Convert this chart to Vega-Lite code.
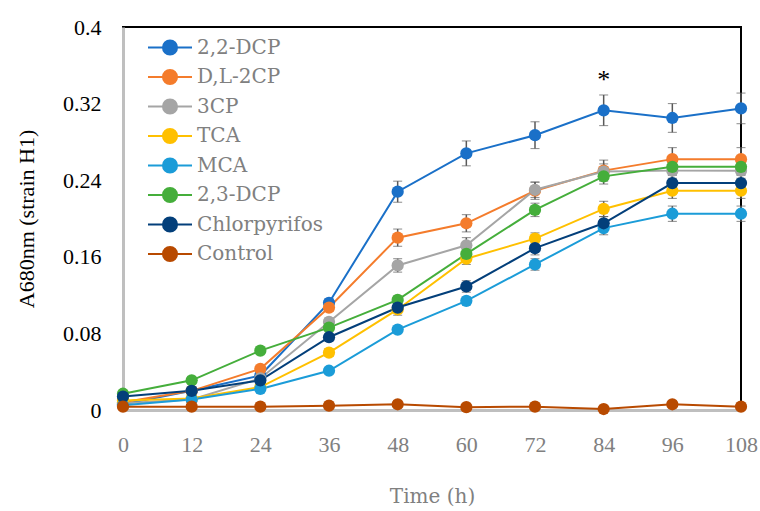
{
  "$schema": "https://vega.github.io/schema/vega-lite/v6.json",
  "width": 618,
  "height": 383,
  "autosize": {"type": "none"},
  "padding": {"left": 123, "top": 27, "right": 19, "bottom": 101},
  "background": "white",
  "config": {
    "view": {"stroke": "black", "strokeWidth": 2},
    "font": "Liberation Serif"
  },
  "datasets": {
    "main": [
      {"time": 0, "series": "2,2-DCP", "value": 0.006, "err": 0.002},
      {"time": 12, "series": "2,2-DCP", "value": 0.020, "err": 0.002},
      {"time": 24, "series": "2,2-DCP", "value": 0.036, "err": 0.003},
      {"time": 36, "series": "2,2-DCP", "value": 0.112, "err": 0.004},
      {"time": 48, "series": "2,2-DCP", "value": 0.228, "err": 0.011},
      {"time": 60, "series": "2,2-DCP", "value": 0.268, "err": 0.013},
      {"time": 72, "series": "2,2-DCP", "value": 0.287, "err": 0.014},
      {"time": 84, "series": "2,2-DCP", "value": 0.313, "err": 0.016},
      {"time": 96, "series": "2,2-DCP", "value": 0.305, "err": 0.015},
      {"time": 108, "series": "2,2-DCP", "value": 0.315, "err": 0.016},
      {"time": 0, "series": "D,L-2CP", "value": 0.008, "err": 0.001},
      {"time": 12, "series": "D,L-2CP", "value": 0.020, "err": 0.002},
      {"time": 24, "series": "D,L-2CP", "value": 0.043, "err": 0.003},
      {"time": 36, "series": "D,L-2CP", "value": 0.107, "err": 0.004},
      {"time": 48, "series": "D,L-2CP", "value": 0.180, "err": 0.009},
      {"time": 60, "series": "D,L-2CP", "value": 0.195, "err": 0.009},
      {"time": 72, "series": "D,L-2CP", "value": 0.229, "err": 0.009},
      {"time": 84, "series": "D,L-2CP", "value": 0.250, "err": 0.011},
      {"time": 96, "series": "D,L-2CP", "value": 0.262, "err": 0.012},
      {"time": 108, "series": "D,L-2CP", "value": 0.262, "err": 0.012},
      {"time": 0, "series": "3CP", "value": 0.007, "err": 0.001},
      {"time": 12, "series": "3CP", "value": 0.011, "err": 0.001},
      {"time": 24, "series": "3CP", "value": 0.033, "err": 0.003},
      {"time": 36, "series": "3CP", "value": 0.092, "err": 0.004},
      {"time": 48, "series": "3CP", "value": 0.151, "err": 0.007},
      {"time": 60, "series": "3CP", "value": 0.172, "err": 0.008},
      {"time": 72, "series": "3CP", "value": 0.230, "err": 0.008},
      {"time": 84, "series": "3CP", "value": 0.249, "err": 0.008},
      {"time": 96, "series": "3CP", "value": 0.250, "err": 0.008},
      {"time": 108, "series": "3CP", "value": 0.250, "err": 0.008},
      {"time": 0, "series": "TCA", "value": 0.010, "err": 0.001},
      {"time": 12, "series": "TCA", "value": 0.012, "err": 0.001},
      {"time": 24, "series": "TCA", "value": 0.024, "err": 0.002},
      {"time": 36, "series": "TCA", "value": 0.060, "err": 0.004},
      {"time": 48, "series": "TCA", "value": 0.105, "err": 0.006},
      {"time": 60, "series": "TCA", "value": 0.158, "err": 0.006},
      {"time": 72, "series": "TCA", "value": 0.179, "err": 0.006},
      {"time": 84, "series": "TCA", "value": 0.210, "err": 0.008},
      {"time": 96, "series": "TCA", "value": 0.229, "err": 0.008},
      {"time": 108, "series": "TCA", "value": 0.229, "err": 0.008},
      {"time": 0, "series": "MCA", "value": 0.005, "err": 0.001},
      {"time": 12, "series": "MCA", "value": 0.011, "err": 0.001},
      {"time": 24, "series": "MCA", "value": 0.022, "err": 0.002},
      {"time": 36, "series": "MCA", "value": 0.041, "err": 0.003},
      {"time": 48, "series": "MCA", "value": 0.084, "err": 0.003},
      {"time": 60, "series": "MCA", "value": 0.114, "err": 0.004},
      {"time": 72, "series": "MCA", "value": 0.152, "err": 0.006},
      {"time": 84, "series": "MCA", "value": 0.190, "err": 0.007},
      {"time": 96, "series": "MCA", "value": 0.205, "err": 0.008},
      {"time": 108, "series": "MCA", "value": 0.205, "err": 0.008},
      {"time": 0, "series": "2,3-DCP", "value": 0.017, "err": 0.001},
      {"time": 12, "series": "2,3-DCP", "value": 0.031, "err": 0.001},
      {"time": 24, "series": "2,3-DCP", "value": 0.062, "err": 0.002},
      {"time": 36, "series": "2,3-DCP", "value": 0.086, "err": 0.003},
      {"time": 48, "series": "2,3-DCP", "value": 0.115, "err": 0.004},
      {"time": 60, "series": "2,3-DCP", "value": 0.163, "err": 0.005},
      {"time": 72, "series": "2,3-DCP", "value": 0.209, "err": 0.007},
      {"time": 84, "series": "2,3-DCP", "value": 0.244, "err": 0.008},
      {"time": 96, "series": "2,3-DCP", "value": 0.254, "err": 0.008},
      {"time": 108, "series": "2,3-DCP", "value": 0.254, "err": 0.008},
      {"time": 0, "series": "Chlorpyrifos", "value": 0.014, "err": 0.001},
      {"time": 12, "series": "Chlorpyrifos", "value": 0.020, "err": 0.002},
      {"time": 24, "series": "Chlorpyrifos", "value": 0.031, "err": 0.002},
      {"time": 36, "series": "Chlorpyrifos", "value": 0.076, "err": 0.004},
      {"time": 48, "series": "Chlorpyrifos", "value": 0.107, "err": 0.005},
      {"time": 60, "series": "Chlorpyrifos", "value": 0.129, "err": 0.006},
      {"time": 72, "series": "Chlorpyrifos", "value": 0.169, "err": 0.007},
      {"time": 84, "series": "Chlorpyrifos", "value": 0.195, "err": 0.007},
      {"time": 96, "series": "Chlorpyrifos", "value": 0.237, "err": 0.008},
      {"time": 108, "series": "Chlorpyrifos", "value": 0.237, "err": 0.008},
      {"time": 0, "series": "Control", "value": 0.0035, "err": 0.001},
      {"time": 12, "series": "Control", "value": 0.0035, "err": 0.001},
      {"time": 24, "series": "Control", "value": 0.0035, "err": 0.001},
      {"time": 36, "series": "Control", "value": 0.0045, "err": 0.001},
      {"time": 48, "series": "Control", "value": 0.006, "err": 0.001},
      {"time": 60, "series": "Control", "value": 0.003, "err": 0.001},
      {"time": 72, "series": "Control", "value": 0.0035, "err": 0.001},
      {"time": 84, "series": "Control", "value": 0.001, "err": 0.001},
      {"time": 96, "series": "Control", "value": 0.006, "err": 0.001},
      {"time": 108, "series": "Control", "value": 0.0035, "err": 0.001}
    ],
    "marks": [
      {"time": 84, "value": 0.345, "label": "*"}
    ]
  },
  "data": {"name": "main"},
  "encoding": {
    "x": {
      "field": "time", "type": "quantitative",
      "scale": {"domain": [0, 108], "nice": false},
      "axis": {
        "title": "Time (h)",
        "values": [0, 12, 24, 36, 48, 60, 72, 84, 96, 108],
        "grid": false, "ticks": false, "tickSize": 0, "labelFlush": false, "labelOverlap": false,
        "domainColor": "#bfbfbf", "domainWidth": 3,
        "labelFont": "Liberation Serif", "labelFontSize": 22, "labelColor": "#808080",
        "labelPadding": 24,
        "titleFont": "DejaVu Serif", "titleFontSize": 20, "titleColor": "#808080",
        "titleFontWeight": "normal", "titlePadding": 31
      }
    },
    "y": {
      "field": "value", "type": "quantitative",
      "scale": {"domain": [0, 0.4], "nice": false},
      "axis": {
        "title": "A680nm (strain H1)",
        "values": [0, 0.08, 0.16, 0.24, 0.32, 0.4],
        "format": "~g",
        "grid": false, "ticks": false, "tickSize": 0, "labelFlush": false, "labelOverlap": false,
        "domainColor": "#bfbfbf", "domainWidth": 3,
        "labelFont": "Liberation Serif", "labelFontSize": 22, "labelColor": "black",
        "labelPadding": 22,
        "titleFont": "Liberation Serif", "titleFontSize": 22, "titleColor": "black",
        "titleFontWeight": "normal", "titlePadding": 24
      }
    }
  },
  "layer": [
    {
      "mark": {"type": "errorbar", "ticks": {"size": 9, "color": "#595959", "strokeWidth": 1.5}, "rule": {"color": "#595959", "strokeWidth": 1.5}},
      "encoding": {
        "yError": {"field": "err"},
        "detail": {"field": "series", "type": "nominal"}
      }
    },
    {
      "mark": {"type": "line", "strokeWidth": 2},
      "encoding": {
        "color": {
          "field": "series", "type": "nominal",
          "scale": {
            "domain": ["2,2-DCP", "D,L-2CP", "3CP", "TCA", "MCA", "2,3-DCP", "Chlorpyrifos", "Control"],
            "range": ["#1a70c8", "#f47c2c", "#a5a5a5", "#ffc000", "#1b9cd8", "#45ae3b", "#033f7a", "#b84a00"]
          },
          "legend": {
            "orient": "none", "legendX": 35, "legendY": 8.5,
            "title": null, "padding": 0,
            "symbolType": "M-2,0H2M-0.64,0A0.64,0.64,0,1,1,0.64,0A0.64,0.64,0,1,1,-0.64,0Z",
            "symbolSize": 484, "symbolStrokeWidth": 2, "symbolOffset": 0,
            "labelFont": "DejaVu Serif", "labelFontSize": 20, "labelColor": "#808080",
            "labelOffset": 15, "rowPadding": 5.5, "labelLimit": 300,
            "encode": {
              "symbols": {
                "update": {
                  "fill": {"scale": "color", "field": "value"},
                  "stroke": {"scale": "color", "field": "value"},
                  "opacity": {"value": 1}
                }
              }
            }
          }
        }
      }
    },
    {
      "mark": {"type": "point", "filled": true, "size": 150, "opacity": 1},
      "encoding": {
        "color": {"field": "series", "type": "nominal"}
      }
    },
    {
      "data": {"name": "marks"},
      "mark": {"type": "text", "font": "Liberation Serif", "fontSize": 26, "color": "black", "baseline": "middle"},
      "encoding": {
        "text": {"field": "label"}
      }
    }
  ]
}
